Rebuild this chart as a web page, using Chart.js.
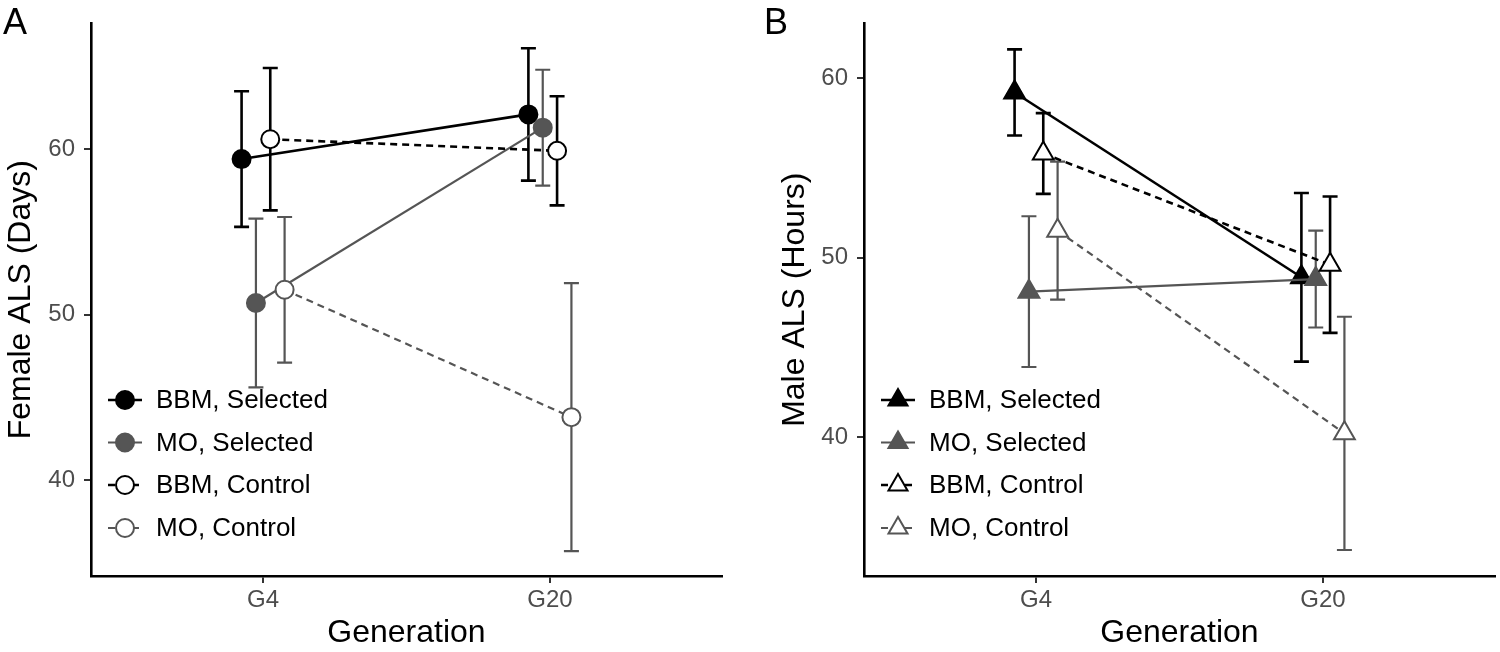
<!DOCTYPE html>
<html>
<head>
<meta charset="utf-8">
<script src="https://cdn.jsdelivr.net/npm/chart.js@4.4.0/dist/chart.umd.min.js"></script>
<style>
  body { margin: 0; background: #fff; }
  .panel { position: absolute; top: 0; width: 750px; height: 652px; }
</style>
</head>
<body>
<div class="panel" style="left:0"><canvas id="panelA" width="750" height="652"></canvas></div>
<div class="panel" style="left:750px"><canvas id="panelB" width="750" height="652"></canvas></div>
<script>
const generations = ['G4', 'G20']
const groupLabels = ['BBM, Selected', 'MO, Selected', 'BBM, Control', 'MO, Control']

// Female ALS (days): means and error half-widths per generation
const femaleBbmSelected = [59.4, 62.1]
const femaleBbmSelectedErr = [4.1, 4.0]
const femaleMoSelected = [50.7, 61.3]
const femaleMoSelectedErr = [5.1, 3.5]
const femaleBbmControl = [60.6, 59.9]
const femaleBbmControlErr = [4.3, 3.3]
const femaleMoControl = [51.5, 43.8]
const femaleMoControlErr = [4.4, 8.1]

// Male ALS (hours)
const maleBbmSelected = [59.2, 48.9]
const maleBbmSelectedErr = [2.4, 4.7]
const maleMoSelected = [48.1, 48.8]
const maleMoSelectedErr = [4.2, 2.7]
const maleBbmControl = [55.8, 49.6]
const maleBbmControlErr = [2.25, 3.8]
const maleMoControl = [51.5, 40.2]
const maleMoControlErr = [3.85, 6.5]

const yTicks = [40, 50, 60]

const BLACK = '#000000'
const GREY = '#555555'
const dodge = [-0.075, -0.025, 0.025, 0.075]

Chart.defaults.font.family = "'Liberation Sans', Arial, sans-serif"

function drawMarker(ctx, style, x, y, r) {
  ctx.beginPath()
  if (style === 'triangle') {
    let rad = 0
    ctx.moveTo(x + Math.sin(rad) * r, y - Math.cos(rad) * r)
    rad += 2 * Math.PI / 3
    ctx.lineTo(x + Math.sin(rad) * r, y - Math.cos(rad) * r)
    rad += 2 * Math.PI / 3
    ctx.lineTo(x + Math.sin(rad) * r, y - Math.cos(rad) * r)
    ctx.closePath()
  } else {
    ctx.arc(x, y, r, 0, Math.PI * 2)
  }
  ctx.fill()
  ctx.stroke()
}

const errorBarsPlugin = {
  id: 'errorBars',
  beforeDatasetsDraw(chart) {
    const ctx = chart.ctx
    const yScale = chart.scales.y
    ctx.save()
    chart.data.datasets.forEach((ds, i) => {
      const meta = chart.getDatasetMeta(i)
      meta.data.forEach((pt, j) => {
        const v = ds.data[j].y
        const e = ds.errors[j]
        const yTop = yScale.getPixelForValue(v + e)
        const yBot = yScale.getPixelForValue(v - e)
        ctx.strokeStyle = ds.errorColor
        ctx.lineWidth = ds.errorWidth
        ctx.setLineDash([])
        ctx.beginPath()
        ctx.moveTo(pt.x, yTop)
        ctx.lineTo(pt.x, yBot)
        ctx.moveTo(pt.x - 7.5, yTop)
        ctx.lineTo(pt.x + 7.5, yTop)
        ctx.moveTo(pt.x - 7.5, yBot)
        ctx.lineTo(pt.x + 7.5, yBot)
        ctx.stroke()
      })
    })
    ctx.restore()
  },
}

const insetLegendPlugin = {
  id: 'insetLegend',
  afterDraw(chart, args, opts) {
    const ctx = chart.ctx
    const left = chart.chartArea.left
    ctx.save()
    chart.data.datasets.forEach((ds, i) => {
      const y = opts.rows[i]
      ctx.strokeStyle = ds.borderColor
      ctx.lineWidth = ds.borderWidth
      ctx.setLineDash(ds.borderDash || [])
      ctx.beginPath()
      ctx.moveTo(left + 17, y)
      ctx.lineTo(left + 51, y)
      ctx.stroke()
      ctx.setLineDash([])
      ctx.fillStyle = ds.pointBackgroundColor
      ctx.strokeStyle = ds.pointBorderColor
      ctx.lineWidth = ds.pointBorderWidth
      drawMarker(ctx, ds.pointStyle, left + 34, y, opts.keyRadius)
      ctx.fillStyle = BLACK
      ctx.font = "26px 'Liberation Sans', Arial, sans-serif"
      ctx.textBaseline = 'middle'
      ctx.fillText(ds.label, left + 65, y + 1)
    })
    // panel letter
    ctx.fillStyle = BLACK
    ctx.font = "36px 'Liberation Sans', Arial, sans-serif"
    ctx.textBaseline = 'alphabetic'
    ctx.fillText(opts.letter, opts.letterX, 34)
    ctx.restore()
  },
}

function makeSeries(label, means, errs, g, color, filled, dash, style, radius) {
  return {
    label: label,
    data: means.map((v, k) => ({ x: k + 1 + dodge[g], y: v })),
    errors: errs,
    errorColor: color,
    errorWidth: color === BLACK ? 2.6 : 2.2,
    borderColor: color,
    borderWidth: color === BLACK ? 2.6 : 2.2,
    borderDash: dash,
    pointStyle: style,
    pointRadius: radius,
    pointHoverRadius: radius,
    pointBackgroundColor: filled ? color : '#ffffff',
    pointBorderColor: color,
    pointBorderWidth: 2,
    order: -g,
    tension: 0,
  }
}

function makePanel(id, cfg) {
  const ctx = document.getElementById(id).getContext('2d')
  return new Chart(ctx, {
    type: 'line',
    data: {
      datasets: [
        makeSeries(groupLabels[0], cfg.series[0], cfg.errors[0], 0, BLACK, true, [], cfg.style, cfg.radius),
        makeSeries(groupLabels[1], cfg.series[1], cfg.errors[1], 1, GREY, true, [], cfg.style, cfg.radius),
        makeSeries(groupLabels[2], cfg.series[2], cfg.errors[2], 2, BLACK, false, [7, 5], cfg.style, cfg.radius),
        makeSeries(groupLabels[3], cfg.series[3], cfg.errors[3], 3, GREY, false, [7, 5], cfg.style, cfg.radius),
      ],
    },
    options: {
      responsive: false,
      animation: false,
      layout: { autoPadding: false, padding: { top: 7, right: cfg.padRight, bottom: 0, left: 0 } },
      plugins: {
        legend: { display: false },
        tooltip: { enabled: false },
        insetLegend: {
          rows: [400, 442.5, 485, 528],
          keyRadius: cfg.keyRadius,
          letter: cfg.letter,
          letterX: cfg.letterX,
        },
      },
      scales: {
        x: {
          type: 'linear',
          min: 0.4,
          max: 2.6,
          afterBuildTicks: (s) => { s.ticks = [{ value: 1 }, { value: 2 }] },
          afterFit: (s) => { s.height = 76 },
          ticks: {
            callback: (v) => generations[v - 1],
            color: '#4d4d4d',
            font: { size: 24 },
            padding: 3,
            autoSkip: false,
            maxRotation: 0,
          },
          grid: { display: true, drawOnChartArea: false, drawTicks: true, tickLength: 7, color: '#333333', lineWidth: 2 },
          border: { display: true, color: BLACK, width: 2.6 },
          title: { display: true, text: 'Generation', color: BLACK, font: { size: 32 }, padding: { top: 0, bottom: 0 } },
        },
        y: {
          type: 'linear',
          min: cfg.yMin,
          max: cfg.yMax,
          afterBuildTicks: (s) => { s.ticks = yTicks.map((v) => ({ value: v })) },
          afterFit: (s) => { s.width = cfg.axisWidth },
          ticks: { color: '#4d4d4d', font: { size: 24 }, padding: 9 },
          grid: { display: true, drawOnChartArea: false, drawTicks: true, tickLength: 7, color: '#333333', lineWidth: 2 },
          border: { display: true, color: BLACK, width: 2.6 },
          title: { display: true, text: cfg.yTitle, color: BLACK, font: { size: 32 }, padding: { top: cfg.titlePad, bottom: 0 } },
        },
      },
    },
    plugins: [errorBarsPlugin, insetLegendPlugin],
  })
}

makePanel('panelA', {
  series: [femaleBbmSelected, femaleMoSelected, femaleBbmControl, femaleMoControl],
  errors: [femaleBbmSelectedErr, femaleMoSelectedErr, femaleBbmControlErr, femaleMoControlErr],
  style: 'circle',
  radius: 9,
  keyRadius: 9,
  yMin: 34.2,
  yMax: 67.6,
  yTitle: 'Female ALS (Days)',
  axisWidth: 91,
  titlePad: 2,
  padRight: 28,
  letter: 'A',
  letterX: 3,
})

makePanel('panelB', {
  series: [maleBbmSelected, maleMoSelected, maleBbmControl, maleMoControl],
  errors: [maleBbmSelectedErr, maleMoSelectedErr, maleBbmControlErr, maleMoControlErr],
  style: 'triangle',
  radius: 12,
  keyRadius: 11,
  yMin: 32.25,
  yMax: 63.05,
  yTitle: 'Male ALS (Hours)',
  axisWidth: 114,
  titlePad: 26,
  padRight: 5,
  letter: 'B',
  letterX: 14,
})
</script>
</body>
</html>
